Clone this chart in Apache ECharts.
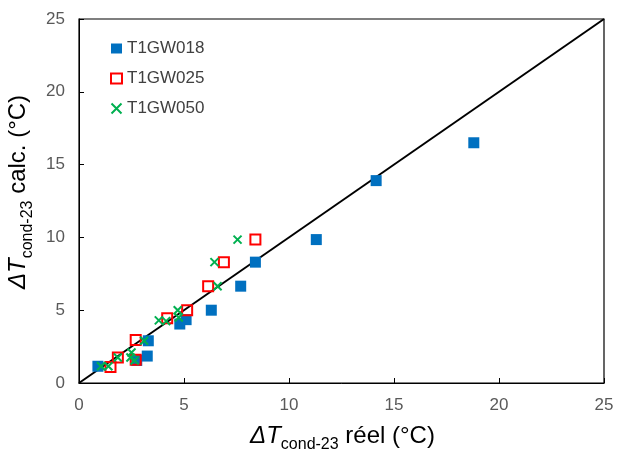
<!DOCTYPE html>
<html>
<head>
<meta charset="utf-8">
<script src="https://cdn.jsdelivr.net/npm/echarts@6/dist/echarts.min.js"></script>
<style>
html,body{margin:0;padding:0;background:#fff;}
#c{width:618px;height:453px;}
</style>
</head>
<body>
<div id="c"></div>
<script>
const seriesNames = ['T1GW018', 'T1GW025', 'T1GW050'];
const axisTicks = [0, 5, 10, 15, 20, 25];
const t1gw018 = [[18.8,16.5],[14.15,13.9],[11.3,9.85],[8.4,8.3],[7.7,6.65],[6.3,5.0],[5.1,4.35],[4.8,4.05],[3.3,2.9],[3.25,1.85],[2.75,1.55],[0.9,1.15]];
const t1gw025 = [[8.4,9.85],[6.9,8.3],[6.15,6.65],[5.15,5.0],[4.2,4.45],[2.7,2.95],[1.85,1.75],[2.7,1.6],[1.5,1.1]];
const t1gw050 = [[7.55,9.85],[6.45,8.3],[6.6,6.65],[4.7,5.0],[4.75,4.5],[3.8,4.3],[4.15,4.25],[3.1,2.9],[2.5,2.1],[2.45,1.75],[1.85,1.75],[2.65,1.55],[1.05,1.15],[1.4,1.15]];
const diagonal = [[0,0],[25,25]];

const chart = echarts.init(document.getElementById('c'), null, {renderer:'canvas'});
const font = 'Liberation Sans, Arial, sans-serif';
const nameRich = {
  i: {fontSize: 24, fontStyle: 'italic', fontFamily: font, color: '#000', lineHeight: 34, verticalAlign: 'middle'},
  s: {fontSize: 16, fontFamily: font, color: '#000', lineHeight: 18, verticalAlign: 'bottom'},
  n: {fontSize: 24, fontFamily: font, color: '#000', lineHeight: 34, verticalAlign: 'middle'}
};
function axisCommon(name, gap, pad) {
  return {
    type: 'value', min: axisTicks[0], max: axisTicks[axisTicks.length-1], interval: 5,
    name: name, nameLocation: 'middle', nameGap: gap,
    nameTextStyle: {rich: nameRich, padding: pad},
    axisLine: {show: true, lineStyle: {color: '#000', width: 1}},
    axisTick: {show: true, inside: true, length: 5, lineStyle: {color: '#000'}},
    axisLabel: {fontSize: 17, fontFamily: font, color: '#595959', margin: 14},
    splitLine: {show: false}
  };
}
const xPath = 'path://M0,0L10,10M10,0L0,10';
chart.setOption({
  animation: false,
  backgroundColor: '#fff',
  grid: {left: 79, right: 14, top: 19, bottom: 70, show: true, borderColor: '#000', borderWidth: 1.2, containLabel: false, outerBoundsMode: 'none'},
  xAxis: axisCommon('{i|ΔT}{s|cond-23}{n| réel (°C)}', 36, [0, 0, 0, 2]),
  yAxis: axisCommon('{i|ΔT}{s|cond-23}{n| calc. (°C)}', 28, [0, 0, 0, 18]),
  legend: {
    data: seriesNames, orient: 'vertical', left: 105, top: 35, itemGap: 13,
    itemWidth: 11, itemHeight: 10,
    textStyle: {fontSize: 17, fontFamily: font, color: '#404040'}
  },
  series: [
    {type: 'line', name: 'diag', data: diagonal, showSymbol: false, symbol: 'none', lineStyle: {color: '#000', width: 2}, z: 1, silent: true},
    {type: 'scatter', name: seriesNames[0], data: t1gw018, symbol: 'rect', symbolSize: 11, itemStyle: {color: '#0070C0', opacity: 1}, z: 2},
    {type: 'scatter', name: seriesNames[1], data: t1gw025, symbol: 'rect', symbolSize: 10, itemStyle: {color: 'rgba(255,255,255,0)', borderColor: '#FF0000', borderWidth: 2, opacity: 1}, z: 3},
    {type: 'scatter', name: seriesNames[2], data: t1gw050, symbol: xPath, symbolSize: 8, itemStyle: {color: 'rgba(0,0,0,0)', borderColor: '#00B050', borderWidth: 2, opacity: 1}, z: 4}
  ]
});
</script>
</body>
</html>
